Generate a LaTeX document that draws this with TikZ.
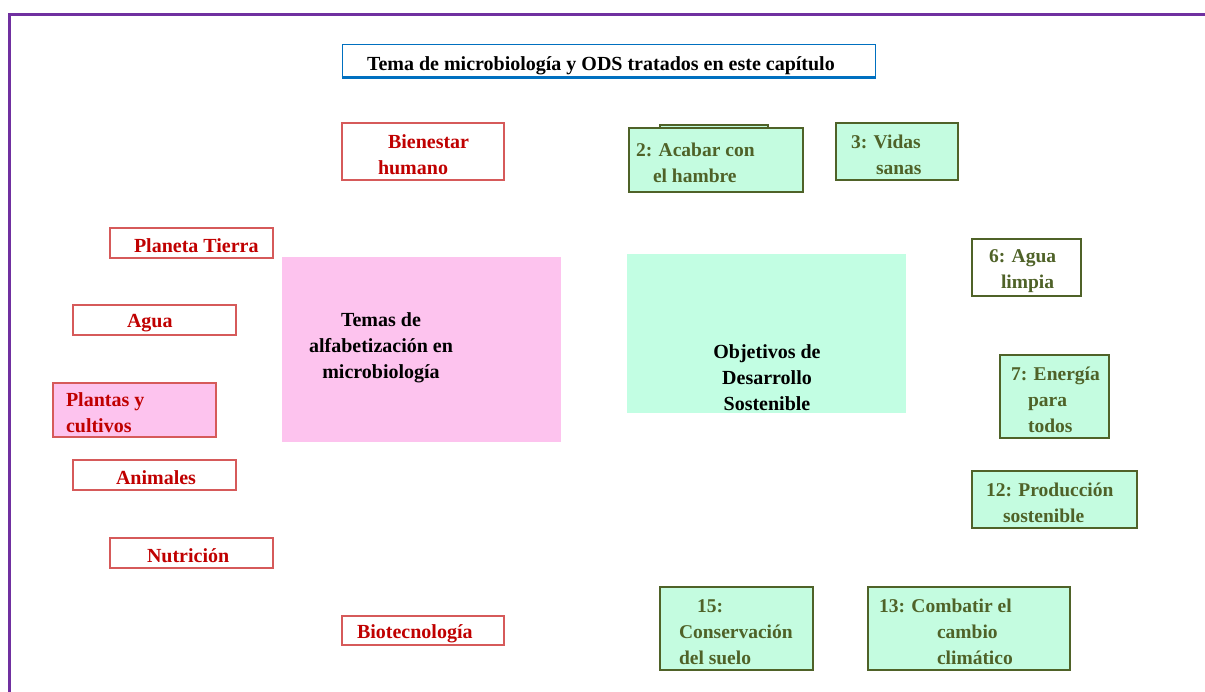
\documentclass[tikz,border=0pt]{standalone}
\usepackage{fontspec}
\setmainfont{Liberation Serif}
\setlength\parindent{0pt}
\newcommand\tup{\rule{0pt}{20pt}}
\definecolor{purp}{HTML}{7030A0}
\definecolor{redtxt}{HTML}{C00000}
\definecolor{redline}{HTML}{D65A5A}
\definecolor{grnline}{HTML}{4F6228}
\definecolor{grntxt}{HTML}{4F6228}
\definecolor{grnfill}{HTML}{C4FCE0}
\definecolor{bigpink}{HTML}{FDC3EE}
\definecolor{biggrn}{HTML}{C2FEE3}
\definecolor{ttlblue}{HTML}{0070C0}
\tikzset{
  boxbase/.style={rectangle, inner xsep=0pt, inner ysep=0pt, align=flush left,
    font=\fontsize{20}{26}\selectfont\bfseries, line width=1.2pt},
  redbox/.style={boxbase, draw=redline, fill=white, text=redtxt},
  sdgbox/.style={boxbase, draw=grnline, fill=grnfill, text=grntxt,
    font=\fontsize{19.5}{26}\selectfont\bfseries},
  bigbox/.style={rectangle, draw=none, inner sep=0pt},
  bigtext/.style={align=center, font=\fontsize{20}{26}\selectfont\bfseries,
    text=black, inner sep=0pt},
  titlebox/.style={boxbase, draw=ttlblue, line width=1pt, fill=white, text=black},
}
\begin{document}
\begin{tikzpicture}[x=1pt, y=-1pt]
\useasboundingbox (0,0) rectangle (1205,691);
% frame
\coordinate (fr1) at (1210,14);
\coordinate (fr2) at (9,14);
\coordinate (fr3) at (9,696);
\draw[purp, line width=3pt] (fr1) -- (fr2) -- (fr3);

% title
\node[titlebox, minimum width=533pt, minimum height=33pt, text width=533pt]
  (title) at (608.5,60.5) {\rule{0pt}{24pt}\hspace*{25pt}Tema de microbiología y ODS tratados en este capítulo};
\draw[ttlblue, line width=2.5pt] (title.south west) -- (title.south east);

% big boxes
\node[bigbox, fill=bigpink, minimum width=279pt, minimum height=185pt] (pink) at (421.5,349.5) {};
\node[bigtext] (pinktxt) at (381,348) {Temas de\\alfabetización en\\microbiología};
\node[bigbox, fill=biggrn, minimum width=279pt, minimum height=159pt] (ods) at (766.5,333.5) {};
\node[bigtext] (odstxt) at (767,378) {Objetivos de\\Desarrollo\\Sostenible};

% red boxes
\node[redbox, minimum width=162pt, minimum height=57pt, text width=162pt] (bien) at (423,151.5)
  {\tup\hspace*{46pt}Bienestar\\\hspace*{36pt}humano};
\node[redbox, minimum width=163pt, minimum height=30pt, text width=163pt] (plan) at (191.5,243)
  {\tup\hspace*{24pt}Planeta Tierra};
\node[redbox, minimum width=163pt, minimum height=30pt, text width=163pt] (agua) at (154.5,320)
  {\tup\hspace*{54pt}Agua};
\node[redbox, fill=bigpink, minimum width=163pt, minimum height=54pt, text width=163pt] (plant) at (134.5,410)
  {\tup\hspace*{13pt}Plantas y\\\hspace*{13pt}cultivos};
\node[redbox, minimum width=163pt, minimum height=30pt, text width=163pt] (anim) at (154.5,475)
  {\tup\hspace*{43pt}Animales};
\node[redbox, minimum width=163pt, minimum height=30pt, text width=163pt] (nutr) at (191.5,553)
  {\tup\hspace*{37pt}Nutrición};
\node[redbox, minimum width=162pt, minimum height=29pt, text width=162pt] (biot) at (423,630.5)
  {\tup\hspace*{15pt}Biotecnología};

% SDG boxes
\node[sdgbox, minimum width=108pt, minimum height=25pt, text width=108pt] (stub) at (714,137.5) {};
\node[sdgbox, minimum width=174pt, minimum height=64pt, text width=174pt] (g2) at (716,160)
  {\tup\hspace*{7pt}2: Acabar con\\\hspace*{24pt}el hambre};
\node[sdgbox, minimum width=122pt, minimum height=57pt, text width=122pt] (g3) at (897,151.5)
  {\tup\hspace*{15pt}3: Vidas\\\hspace*{40pt}sanas};
\node[sdgbox, fill=white, minimum width=109pt, minimum height=57pt, text width=109pt] (g6) at (1026.5,267.5)
  {\tup\hspace*{17pt}6: Agua\\\hspace*{29pt}limpia};
\node[sdgbox, minimum width=109pt, minimum height=83pt, text width=109pt] (g7) at (1054.5,396.5)
  {\tup\hspace*{11pt}7: Energía\\\hspace*{28pt}para\\\hspace*{28pt}todos};
\node[sdgbox, minimum width=165pt, minimum height=57pt, text width=165pt] (g12) at (1054.5,499.5)
  {\tup\hspace*{14pt}12: Producción\\\hspace*{31pt}sostenible};
\node[sdgbox, minimum width=153pt, minimum height=83pt, text width=153pt] (g15) at (736.5,628.5)
  {\tup\hspace*{37pt}15:\\\hspace*{19pt}Conservación\\\hspace*{19pt}del suelo};
\node[sdgbox, minimum width=202pt, minimum height=83pt, text width=202pt] (g13) at (969,628.5)
  {\tup\hspace*{11pt}13: Combatir el\\\hspace*{69pt}cambio\\\hspace*{69pt}climático};
\end{tikzpicture}
\end{document}
